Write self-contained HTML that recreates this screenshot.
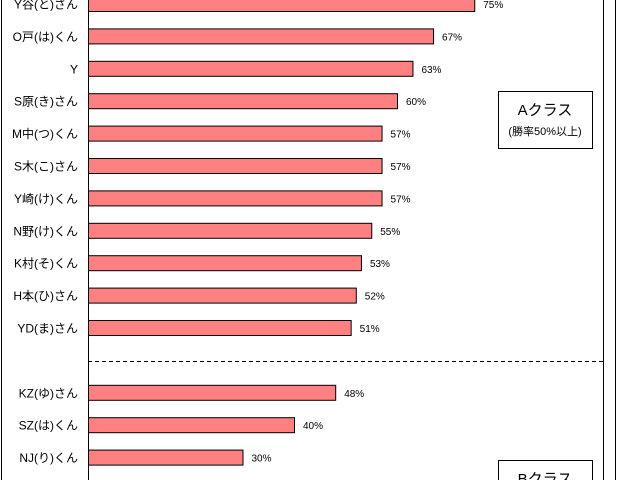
<!DOCTYPE html>
<html><head><meta charset="utf-8"><style>
body{margin:0;background:#fff;width:618px;height:480px;overflow:hidden}
svg text{font-family:"Liberation Sans","Noto Sans CJK JP",sans-serif}
</style></head><body>
<svg width="618" height="480">
<line x1="1.5" y1="0" x2="1.5" y2="480" stroke="#000"/>
<line x1="615.5" y1="0" x2="615.5" y2="480" stroke="#000"/>
<line x1="603.5" y1="0" x2="603.5" y2="480" stroke="#000"/>
<line x1="88.5" y1="0" x2="88.5" y2="480" stroke="#000"/>
<line x1="88" y1="361.5" x2="603" y2="361.5" stroke="#000" stroke-dasharray="4,3"/>
<g id="bars"></g>
<g>
<rect x="498.5" y="91.5" width="94" height="57" fill="#fff" stroke="#000"/>
<text x="545" y="115" font-size="15" text-anchor="middle">Aクラス</text>
<text x="545" y="135" font-size="11" text-anchor="middle">(勝率50%以上)</text>
</g>
<g>
<rect x="498.5" y="460.5" width="94" height="40" fill="#fff" stroke="#000"/>
<text x="545" y="484" font-size="15" text-anchor="middle">Bクラス</text>
</g>
</svg>
<script>
const names=["Y谷(と)さん","O戸(は)くん","Y","S原(き)さん","M中(つ)くん","S木(こ)さん","Y崎(け)くん","N野(け)くん","K村(そ)くん","H本(ひ)さん","YD(ま)さん","KZ(ゆ)さん","SZ(は)くん","NJ(り)くん"];
const values=[75,67,63,60,57,57,57,55,53,52,51,48,40,30];
const slots=[0,1,2,3,4,5,6,7,8,9,10,12,13,14];
const x0=88,scale=5.15;
const xs=v=>x0+v*scale;
const ys=i=>4+i*32.4;
const g=document.getElementById('bars');
const NS='http://www.w3.org/2000/svg';
names.forEach((n,k)=>{
 const cy=ys(slots[k]);
 const r=document.createElementNS(NS,'rect');
 r.setAttribute('x',x0+0.5);r.setAttribute('y',cy-7.5);
 r.setAttribute('width',xs(values[k])-x0);r.setAttribute('height',15);
 r.setAttribute('fill','#ff8080');r.setAttribute('stroke','#000');
 
 
 g.appendChild(r);
 const t=document.createElementNS(NS,'text');
 t.setAttribute('x',78);t.setAttribute('y',cy+4.5);t.setAttribute('font-size','12');t.setAttribute('text-anchor','end');
 t.textContent=n;
 
 
 g.appendChild(t);
 const v=document.createElementNS(NS,'text');
 v.setAttribute('x',xs(values[k])+9);v.setAttribute('y',cy+4);v.setAttribute('font-size','10');
 v.textContent=values[k]+'%';
 
 
 g.appendChild(v);
});
</script>
</body></html>
